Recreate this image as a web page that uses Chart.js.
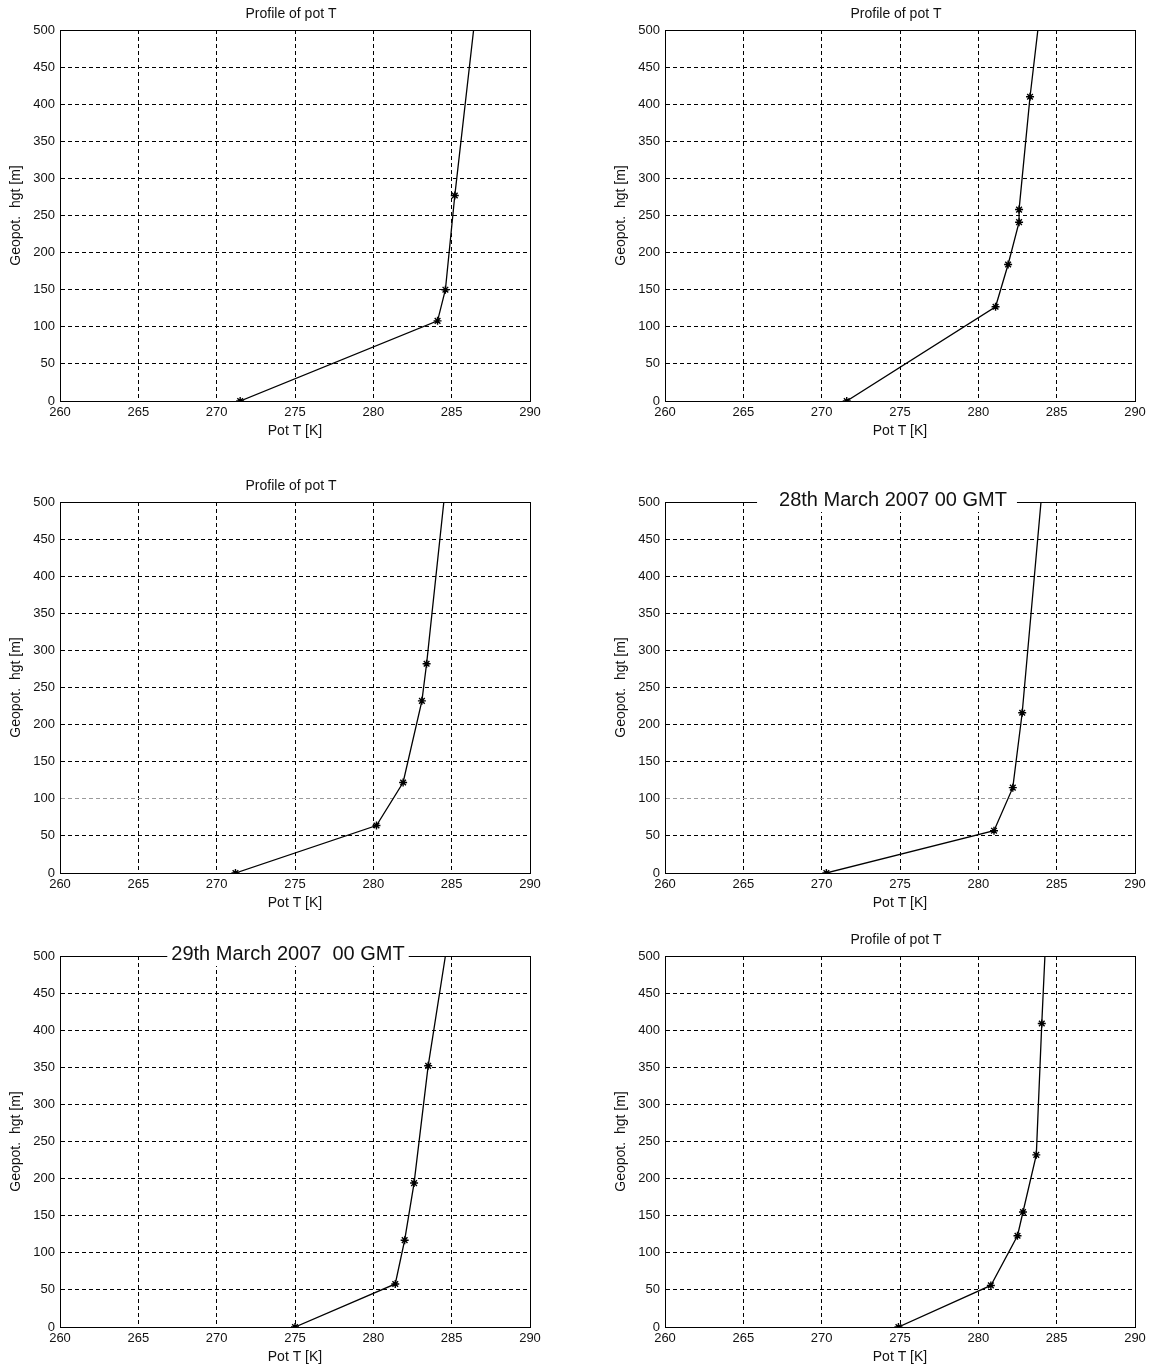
<!DOCTYPE html>
<html>
<head>
<meta charset="utf-8">
<script src="https://cdn.jsdelivr.net/npm/chart.js@4.4.1/dist/chart.umd.min.js"></script>
<style>
  html, body { margin: 0; padding: 0; background: #fff; overflow: hidden; }
  body { width: 1152px; height: 1367px; position: relative; }
  canvas { position: absolute; }
</style>
</head>
<body>
<canvas id="p1" width="576" height="445" style="left:0px;top:0px"></canvas>
<canvas id="p2" width="576" height="445" style="left:605px;top:0px"></canvas>
<canvas id="p3" width="576" height="445" style="left:0px;top:472px"></canvas>
<canvas id="p4" width="576" height="445" style="left:605px;top:472px"></canvas>
<canvas id="p5" width="576" height="445" style="left:0px;top:926px"></canvas>
<canvas id="p6" width="576" height="445" style="left:605px;top:926px"></canvas>
<script>
// tick labels
const xTicks = [260, 265, 270, 275, 280, 285, 290];
const yTicks = [0, 50, 100, 150, 200, 250, 300, 350, 400, 450, 500];

// profiles: potential temperature [K] vs geopotential height [m]
const potT1 = [271.5, 284.1, 284.6, 285.2, 286.4];
const hgt1  = [0, 108, 150, 277, 500];

const potT2 = [271.6, 281.1, 281.9, 282.6, 282.6, 283.3, 283.8];
const hgt2  = [0, 127, 184, 241, 258, 410, 500];

const potT3 = [271.2, 280.2, 281.9, 283.1, 283.4, 284.5];
const hgt3  = [0, 64, 122, 232, 282, 500];

const potT4 = [270.3, 281.0, 282.2, 282.8, 284.0];
const hgt4  = [0, 57, 115, 216, 500];

const potT5 = [275.0, 281.4, 282.0, 282.6, 283.5, 284.6];
const hgt5  = [0, 58, 117, 194, 352, 500];

const potT6 = [274.9, 280.8, 282.5, 282.85, 283.7, 284.05, 284.25];
const hgt6  = [0, 56, 123, 155, 232, 409, 500];

const titles = [
    'Profile of pot T',
    'Profile of pot T',
    'Profile of pot T',
    '28th March 2007 00 GMT',
    '29th March 2007  00 GMT',
    'Profile of pot T'
];

const xLabel = 'Pot T [K]';
const yLabel = 'Geopot.  hgt [m]';

const FONT = "'Liberation Sans', Arial, sans-serif";

// frame around the plot area + title (boxed titles sit over the top border)
const framePlugin = {
    id: 'frame',
    afterDraw(chart, args, opts) {
        const ctx = chart.ctx;
        const a = chart.chartArea;
        ctx.save();
        ctx.strokeStyle = '#000';
        ctx.lineWidth = 1;
        ctx.setLineDash([]);
        ctx.strokeRect(Math.round(a.left) + 0.5, Math.round(a.top) + 0.5,
            Math.round(a.right - a.left), Math.round(a.bottom - a.top));

        ctx.font = opts.size + 'px ' + FONT;
        ctx.textAlign = 'center';
        ctx.textBaseline = 'middle';
        const cx = (a.left + a.right) / 2 + opts.dx;
        const cy = a.top + opts.dy;
        if (opts.boxed) {
            const w = ctx.measureText(opts.text).width;
            ctx.fillStyle = '#fff';
            ctx.fillRect(cx - w / 2 - opts.padL, cy - 12, w + opts.padL + opts.padR, 24);
        }
        ctx.fillStyle = '#111';
        ctx.fillText(opts.text, cx, cy);
        ctx.restore();
    }
};

function makePanel(id, potT, hgt, title, style) {
    const points = potT.map((t, i) => ({ x: t, y: hgt[i] }));
    const last = points.length - 1;

    new Chart(document.getElementById(id), {
        type: 'scatter',
        data: {
            datasets: [{
                data: points,
                showLine: true,
                borderColor: '#000',
                borderWidth: 1.3,
                pointStyle: 'star',
                pointRadius: c => c.dataIndex === last ? 0 : 4,
                pointBorderColor: '#000',
                pointBackgroundColor: '#000',
                pointBorderWidth: 1.4
            }]
        },
        options: {
            responsive: false,
            animation: false,
            events: [],
            layout: { padding: { left: 0, top: 30, right: 46, bottom: 0 } },
            plugins: {
                legend: { display: false },
                title: { display: false },
                tooltip: { enabled: false },
                frame: Object.assign({ text: title }, style)
            },
            scales: {
                x: {
                    type: 'linear',
                    min: 260,
                    max: 290,
                    afterBuildTicks: s => { s.ticks = xTicks.map(v => ({ value: v })); },
                    afterFit: s => { s.height = 44; },
                    grid: { color: '#000', lineWidth: 1, drawTicks: false },
                    border: { display: true, color: '#000', width: 1, dash: [4, 3] },
                    ticks: { color: '#111', padding: 4, maxRotation: 0, font: { family: FONT, size: 13 } },
                    title: {
                        display: true, text: xLabel, color: '#111',
                        font: { family: FONT, size: 14 }, padding: { top: 0, bottom: 5 }
                    }
                },
                y: {
                    type: 'linear',
                    min: 0,
                    max: 500,
                    afterBuildTicks: s => { s.ticks = yTicks.map(v => ({ value: v })); },
                    afterFit: s => { s.width = 60; },
                    grid: {
                        color: c => (style.greyLine && c.tick && c.tick.value === 100) ? '#9a9a9a' : '#000',
                        lineWidth: 1,
                        drawTicks: false
                    },
                    border: { display: true, color: '#000', width: 1, dash: [4, 3] },
                    ticks: { color: '#111', padding: 5, font: { family: FONT, size: 13 } },
                    title: {
                        display: true, text: yLabel, color: '#111',
                        font: { family: FONT, size: 14 }, padding: { top: 8, bottom: 0 }
                    }
                }
            }
        },
        plugins: [framePlugin]
    });
}

const small = { size: 14, dx: -4, dy: -16, boxed: false };

makePanel('p1', potT1, hgt1, titles[0], small);
makePanel('p2', potT2, hgt2, titles[1], small);
makePanel('p3', potT3, hgt3, titles[2], Object.assign({}, small, { greyLine: true }));
makePanel('p4', potT4, hgt4, titles[3], { size: 20, dx: -7, dy: -2, boxed: true, padL: 22, padR: 10, greyLine: true });
makePanel('p5', potT5, hgt5, titles[4], { size: 20, dx: -7, dy: -2, boxed: true, padL: 4, padR: 4 });
makePanel('p6', potT6, hgt6, titles[5], small);
</script>
</body>
</html>
